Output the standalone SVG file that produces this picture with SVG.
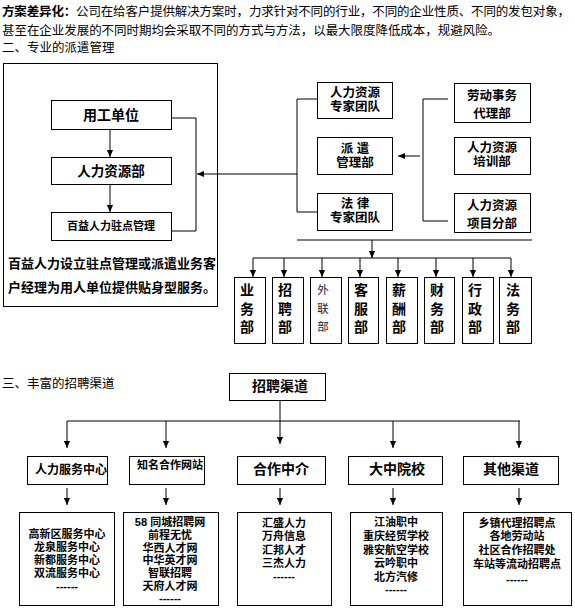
<svg xmlns="http://www.w3.org/2000/svg" width="575" height="610" viewBox="0 0 575 610">
<style>
text{font-family:"Liberation Sans","Noto Sans CJK SC",sans-serif;fill:#000}
.p{font-size:12.5px}
.b{font-weight:bold}
.c{text-anchor:middle}
.box{fill:#fff;stroke:#000;stroke-width:1}
.ln{fill:none;stroke:#000;stroke-width:1}
.d{font-size:14px;font-weight:bold;text-anchor:middle}
.t{font-size:11px;font-weight:bold;text-anchor:middle}
.m{font-size:12.5px;font-weight:bold;text-anchor:middle}
</style>
<defs>
<marker id="ah" viewBox="0 0 8 8" refX="8" refY="4" markerWidth="7" markerHeight="7" markerUnits="userSpaceOnUse" orient="auto">
<path d="M0,0.5 L8,4 L0,7.5 z" fill="#000"/>
</marker>
</defs>
<rect width="575" height="610" fill="#fff"/>

<g id="intro">
<text class="p" x="2" y="16" textLength="568" lengthAdjust="spacing"><tspan class="b">方案差异化：</tspan>公司在给客户提供解决方案时，力求针对不同的行业，不同的企业性质、不同的发包对象，</text>
<text class="p" x="2" y="34.5" textLength="498" lengthAdjust="spacing">甚至在企业发展的不同时期均会采取不同的方式与方法，以最大限度降低成本，规避风险。</text>
<text class="p" x="2" y="52">二、专业的派遣管理</text>
</g>

<g id="connectors">
<line class="ln" x1="110" y1="129" x2="110" y2="157" marker-end="url(#ah)"/>
<line class="ln" x1="110" y1="184" x2="110" y2="212" marker-end="url(#ah)"/>
<polyline class="ln" points="171,118 196,118 196,231 171,231"/>
<line class="ln" x1="297" y1="174" x2="197" y2="174" marker-end="url(#ah)"/>
<polyline class="ln" points="317,99 297,99 297,212 317,212"/>
<polyline class="ln" points="448,99 423,99 423,221 448,221"/>
<line class="ln" x1="420" y1="156" x2="398" y2="156" marker-end="url(#ah)"/>
<line class="ln" x1="297" y1="240" x2="532" y2="240"/>
<line class="ln" x1="372" y1="240" x2="372" y2="258" marker-end="url(#ah)"/>
<line class="ln" x1="253" y1="258" x2="511" y2="258"/>
<line class="ln" x1="253" y1="258" x2="253" y2="277" marker-end="url(#ah)"/>
<line class="ln" x1="284" y1="258" x2="284" y2="277" marker-end="url(#ah)"/>
<line class="ln" x1="322" y1="258" x2="322" y2="277" marker-end="url(#ah)"/>
<line class="ln" x1="360" y1="258" x2="360" y2="277" marker-end="url(#ah)"/>
<line class="ln" x1="398" y1="258" x2="398" y2="277" marker-end="url(#ah)"/>
<line class="ln" x1="436" y1="258" x2="436" y2="277" marker-end="url(#ah)"/>
<line class="ln" x1="473" y1="258" x2="473" y2="277" marker-end="url(#ah)"/>
<line class="ln" x1="511" y1="258" x2="511" y2="277" marker-end="url(#ah)"/>

<line class="ln" x1="280" y1="400" x2="280" y2="444" marker-end="url(#ah)"/>
<line class="ln" x1="67" y1="421" x2="520" y2="421"/>
<line class="ln" x1="67" y1="421" x2="67" y2="448" marker-end="url(#ah)"/>
<line class="ln" x1="166" y1="421" x2="166" y2="448" marker-end="url(#ah)"/>
<line class="ln" x1="393" y1="421" x2="393" y2="448" marker-end="url(#ah)"/>
<line class="ln" x1="519" y1="421" x2="519" y2="448" marker-end="url(#ah)"/>
<line class="ln" x1="67" y1="488" x2="67" y2="505" marker-end="url(#ah)"/>
<line class="ln" x1="166" y1="488" x2="166" y2="505" marker-end="url(#ah)"/>
<line class="ln" x1="280" y1="488" x2="280" y2="505" marker-end="url(#ah)"/>
<line class="ln" x1="393" y1="488" x2="393" y2="505" marker-end="url(#ah)"/>
<line class="ln" x1="519" y1="488" x2="519" y2="505" marker-end="url(#ah)"/>
</g>

<g id="dispatch-frame">
<rect class="ln" x="3.5" y="63.5" width="214" height="243"/>
<text x="8" y="268" style="font-size:13px;font-weight:bold">百益人力设立驻点管理或派遣业务客</text>
<text x="8" y="292" style="font-size:13px;font-weight:bold">户经理为用人单位提供贴身型服务。</text>
</g>
<g id="n-yonggong"><rect class="box" x="51.5" y="100.5" width="120" height="29"/><text class="c b" x="111" y="120" style="font-size:14px">用工单位</text></g>
<g id="n-hr"><rect class="box" x="51.5" y="157.5" width="120" height="27"/><text class="c b" x="111" y="176" style="font-size:13.5px">人力资源部</text></g>
<g id="n-baiyi"><rect class="box" x="51.5" y="212.5" width="120" height="28"/><text class="c b" x="111" y="230" style="font-size:11px">百益人力驻点管理</text></g>

<g id="n-hrteam"><rect class="box" x="317.5" y="82.5" width="75" height="36"/><text class="m" x="355" y="97">人力资源</text><text class="m" x="355" y="111">专家团队</text></g>
<g id="n-paiqian"><rect class="box" x="317.5" y="137.5" width="75" height="37"/><text class="m" x="355" y="153">派  遣</text><text class="m" x="355" y="167">管理部</text></g>
<g id="n-law"><rect class="box" x="317.5" y="193.5" width="75" height="37"/><text class="m" x="355" y="208">法  律</text><text class="m" x="355" y="222">专家团队</text></g>

<g id="n-labor"><rect class="box" x="454.5" y="83.5" width="76" height="39"/><text class="m" x="492" y="100">劳动事务</text><text class="m" x="492" y="118">代理部</text></g>
<g id="n-train"><rect class="box" x="454.5" y="137.5" width="76" height="37"/><text class="m" x="492" y="151.5">人力资源</text><text class="m" x="492" y="165.5">培训部</text></g>
<g id="n-project"><rect class="box" x="454.5" y="193.5" width="76" height="39"/><text class="m" x="492" y="210">人力资源</text><text class="m" x="492" y="228">项目分部</text></g>

<g id="d-yewu"><rect class="box" x="234.5" y="277.5" width="31" height="66"/><text class="d" x="247" y="295">业</text><text class="d" x="247" y="314">务</text><text class="d" x="247" y="332">部</text></g>
<g id="d-zhaopin"><rect class="box" x="272.5" y="277.5" width="31" height="66"/><text class="d" x="285" y="295">招</text><text class="d" x="285" y="314">聘</text><text class="d" x="285" y="332">部</text></g>
<g id="d-wailian"><rect class="box" x="310.5" y="277.5" width="31" height="66"/><text class="c" x="323" y="294" style="font-size:11.5px;fill:#1c1c3a">外</text><text class="c" x="323" y="313" style="font-size:11.5px;fill:#1c1c3a">联</text><text class="c" x="323" y="331" style="font-size:11.5px;fill:#1c1c3a">部</text></g>
<g id="d-kefu"><rect class="box" x="348.5" y="277.5" width="30" height="66"/><text class="d" x="361" y="295">客</text><text class="d" x="361" y="314">服</text><text class="d" x="361" y="332">部</text></g>
<g id="d-xinchou"><rect class="box" x="386.5" y="277.5" width="31" height="66"/><text class="d" x="399" y="295">薪</text><text class="d" x="399" y="314">酬</text><text class="d" x="399" y="332">部</text></g>
<g id="d-caiwu"><rect class="box" x="424.5" y="277.5" width="30" height="66"/><text class="d" x="437" y="295">财</text><text class="d" x="437" y="314">务</text><text class="d" x="437" y="332">部</text></g>
<g id="d-xingzheng"><rect class="box" x="462.5" y="277.5" width="31" height="66"/><text class="d" x="475" y="295">行</text><text class="d" x="475" y="314">政</text><text class="d" x="475" y="332">部</text></g>
<g id="d-fawu"><rect class="box" x="499.5" y="277.5" width="32" height="66"/><text class="d" x="513" y="295">法</text><text class="d" x="513" y="314">务</text><text class="d" x="513" y="332">部</text></g>

<g id="heading3"><text class="p" x="2" y="388">三、丰富的招聘渠道</text></g>

<g id="n-channel"><rect class="box" x="229.5" y="373.5" width="96" height="27"/><text class="c b" x="280" y="391" style="font-size:14px">招聘渠道</text></g>
<g id="c-hrcenter"><rect class="box" x="27.5" y="456.5" width="80" height="28"/><text class="b" x="35" y="474" style="font-size:12px">人力服务中心</text></g>
<g id="c-web"><rect class="box" x="129.5" y="456.5" width="75" height="28"/><text class="b" x="137" y="469" style="font-size:11px">知名合作网站</text></g>
<g id="c-agency"><rect class="box" x="237.5" y="456.5" width="88" height="28"/><text class="c b" x="281" y="474" style="font-size:14px">合作中介</text></g>
<g id="c-school"><rect class="box" x="348.5" y="456.5" width="94" height="28"/><text class="c b" x="397" y="474" style="font-size:14px">大中院校</text></g>
<g id="c-other"><rect class="box" x="463.5" y="456.5" width="95" height="28"/><text class="c b" x="511" y="474" style="font-size:14px">其他渠道</text></g>

<g id="l-hrcenter"><rect class="box" x="19.5" y="512.5" width="95" height="93"/>
<text class="t" x="67" y="538">高新区服务中心</text><text class="t" x="67" y="551">龙泉服务中心</text><text class="t" x="67" y="564">新都服务中心</text><text class="t" x="67" y="577">双流服务中心</text><text class="t" x="67" y="590">------</text></g>
<g id="l-web"><rect class="box" x="123.5" y="512.5" width="95" height="93"/>
<text class="t" x="170" y="526">58 同城招聘网</text><text class="t" x="170" y="539">前程无忧</text><text class="t" x="170" y="551.5">华西人才网</text><text class="t" x="170" y="564">中华英才网</text><text class="t" x="170" y="577">智联招聘</text><text class="t" x="170" y="589.5">天府人才网</text><text class="t" x="170" y="602">------</text></g>
<g id="l-agency"><rect class="box" x="237.5" y="512.5" width="94" height="93"/>
<text class="t" x="284" y="527">汇盛人力</text><text class="t" x="284" y="540">万舟信息</text><text class="t" x="284" y="554">汇邦人才</text><text class="t" x="284" y="567">三杰人力</text><text class="t" x="284" y="580">------</text></g>
<g id="l-school"><rect class="box" x="350.5" y="512.5" width="92" height="93"/>
<text class="t" x="396" y="526">江油职中</text><text class="t" x="396" y="540">重庆经贸学校</text><text class="t" x="396" y="554">雅安航空学校</text><text class="t" x="396" y="567">云吟职中</text><text class="t" x="396" y="581">北方汽修</text><text class="t" x="396" y="593">------</text></g>
<g id="l-other"><rect class="box" x="463.5" y="512.5" width="108" height="93"/>
<text class="t" x="517" y="527">乡镇代理招聘点</text><text class="t" x="517" y="540">各地劳动站</text><text class="t" x="517" y="554">社区合作招聘处</text><text class="t" x="517" y="568">车站等流动招聘点</text><text class="t" x="517" y="583">------</text></g>
</svg>
